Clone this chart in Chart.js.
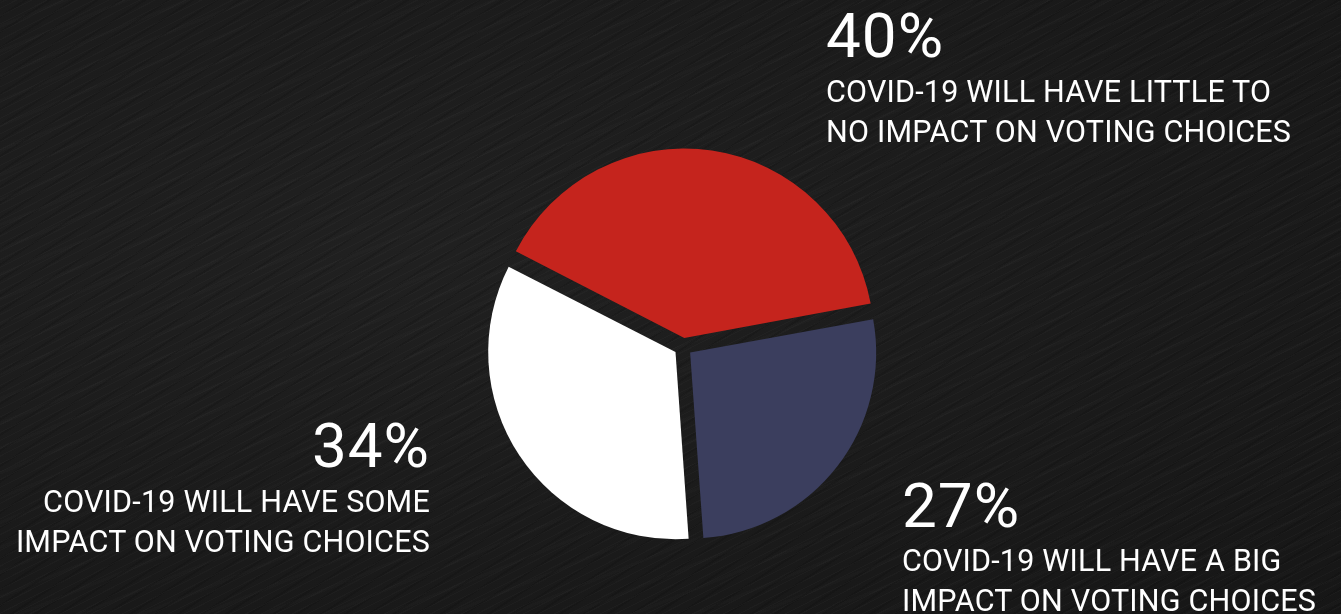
<!DOCTYPE html>
<html>
<head>
<meta charset="utf-8">
<script src="https://cdn.jsdelivr.net/npm/chart.js@4.4.1/dist/chart.umd.min.js"></script>
<style>
  html, body { margin: 0; padding: 0; }
  body {
    width: 1341px; height: 614px; overflow: hidden; position: relative;
    background-color: #1b1b1b;
    background-image:
      repeating-linear-gradient(153deg, rgba(255,255,255,0.018) 0px, rgba(255,255,255,0.018) 1px, rgba(0,0,0,0) 1px, rgba(0,0,0,0) 7px),
      repeating-linear-gradient(147deg, rgba(0,0,0,0.12) 0px, rgba(0,0,0,0.12) 2px, rgba(0,0,0,0) 2px, rgba(0,0,0,0) 13px),
      repeating-linear-gradient(158deg, rgba(255,255,255,0.012) 0px, rgba(255,255,255,0.012) 3px, rgba(0,0,0,0) 3px, rgba(0,0,0,0) 23px),
      radial-gradient(ellipse at 30% 40%, rgba(255,255,255,0.025), rgba(0,0,0,0.18));
    font-family: Roboto, "DejaVu Sans", sans-serif;
    color: #ffffff;
  }
  #wrap { position: absolute; left: 0; top: 0; width: 1341px; height: 614px; }
  .t { position: absolute; white-space: nowrap; color: #fff; }
  .pct { font-size: 62px; line-height: 62px; letter-spacing: 1px; }
  .sub { font-size: 30.5px; line-height: 40px; letter-spacing: 0.2px; }
  .r { text-align: right; }
</style>
</head>
<body>
<div id="wrap"><canvas id="c"></canvas></div>
<script>
// ---- data ----
const categories = [
  "COVID-19 WILL HAVE LITTLE TO NO IMPACT ON VOTING CHOICES",
  "COVID-19 WILL HAVE A BIG IMPACT ON VOTING CHOICES",
  "COVID-19 WILL HAVE SOME IMPACT ON VOTING CHOICES"
];
const values = [40, 27, 34];
const labelLines = [
  ["COVID-19 WILL HAVE LITTLE TO", "NO IMPACT ON VOTING CHOICES"],
  ["COVID-19 WILL HAVE A BIG", "IMPACT ON VOTING CHOICES"],
  ["COVID-19 WILL HAVE SOME", "IMPACT ON VOTING CHOICES"]
];
const sliceColors = ["#C5241D", "#3B3E5E", "#FFFFFF"];

// ---- text annotations (HTML real text) ----
const blocks = [
  { left: 826, align: "left", pctTop: 5, lineTops: [72, 112] },
  { left: 902, align: "left", pctTop: 475, lineTops: [541, 581] },
  { right: 430, align: "right", pctTop: 415, lineTops: [482, 522] }
];
const body = document.body;
blocks.forEach((b, i) => {
  const mk = (cls, txt, top) => {
    const d = document.createElement("div");
    d.className = "t " + cls + (b.align === "right" ? " r" : "");
    d.textContent = txt;
    d.style.top = top + "px";
    if (b.align === "right") d.style.right = (1341 - b.right) + "px";
    else d.style.left = b.left + "px";
    body.appendChild(d);
  };
  mk("pct", values[i] + "%", b.pctTop);
  labelLines[i].forEach((ln, k) => mk("sub", ln, b.lineTops[k]));
});

// ---- chart ----
new Chart(document.getElementById("c"), {
  type: "pie",
  data: {
    labels: categories,
    datasets: [{
      data: values,
      backgroundColor: sliceColors,
      borderWidth: 0,
      offset: 36
    }]
  },
  options: {
    responsive: true,
    maintainAspectRatio: false,
    animation: false,
    events: [],
    rotation: -62.9,
    radius: 186,
    layout: { padding: { left: 25, top: 80, right: 0, bottom: 0 } },
    plugins: { legend: { display: false }, tooltip: { enabled: false } }
  }
});
</script>
</body>
</html>
